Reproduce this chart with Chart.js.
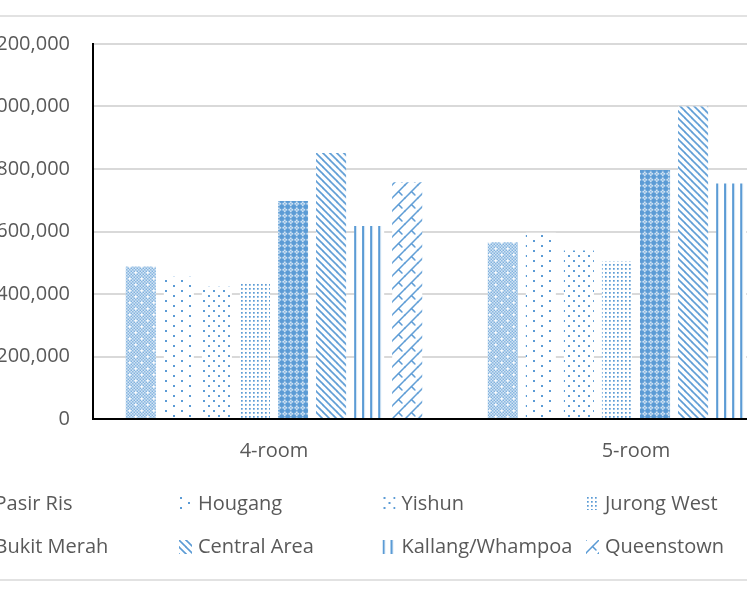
<!DOCTYPE html>
<html>
<head>
<meta charset="utf-8">
<script src="https://cdn.jsdelivr.net/npm/chart.js@4.4.1/dist/chart.umd.min.js"></script>
<style>
html,body{margin:0;padding:0;background:#fff;overflow:hidden;width:747px;height:598px;}
#wrap{position:absolute;left:-100px;top:0;width:930px;height:598px;}
</style>
</head>
<body>
<div id="wrap"><canvas id="c" width="930" height="598"></canvas></div>
<script>
// ---------- data ----------
const categories = ['4-room', '5-room'];
const seriesNames = ['Pasir Ris', 'Hougang', 'Yishun', 'Jurong West', 'Bukit Merah', 'Central Area', 'Kallang/Whampoa', 'Queenstown'];
const room4Values = [488000, 455000, 423000, 434000, 698000, 851000, 618000, 758000];
const room5Values = [566000, 596000, 539000, 504000, 797000, 1000000, 754000, 830000];
const yTickValues = [0, 200000, 400000, 600000, 800000, 1000000, 1200000];

// ---------- patterns ----------
const BLUE = '#5b9bd5';
function makeTile(w, h, draw) {
  const c = document.createElement('canvas');
  c.width = w; c.height = h;
  const g = c.getContext('2d');
  g.fillStyle = '#fff'; g.fillRect(0, 0, w, h);
  draw(g, w, h);
  return c;
}
function fromBits(bits, scale) {
  const n = bits.length, m = bits[0].length;
  const src = makeTile(m * 3, n * 3, g => {
    g.fillStyle = BLUE;
    for (let ty = 0; ty < 3; ty++) for (let tx = 0; tx < 3; tx++)
      for (let y = 0; y < n; y++) for (let x = 0; x < m; x++)
        if (bits[y][x] === '1') g.fillRect(tx * m + x, ty * n + y, 1, 1);
  });
  const big = makeTile(m * 3 * scale, n * 3 * scale, (g, w, h) => {
    g.imageSmoothingEnabled = true; g.drawImage(src, 0, 0, w, h);
  });
  return makeTile(m * scale, n * scale, g => g.drawImage(big, -m * scale, -n * scale));
}
function dots(w, h, pts, s) {
  return makeTile(w, h, g => { g.fillStyle = BLUE; pts.forEach(p => g.fillRect(p[0], p[1], s, s)); });
}
function segs(w, h, list, lw) {
  return makeTile(w, h, g => {
    g.strokeStyle = BLUE; g.lineWidth = lw; g.lineCap = 'round';
    for (let dx = -w; dx <= w; dx += w) for (let dy = -h; dy <= h; dy += h) {
      list.forEach(s => { g.beginPath(); g.moveTo(s[0] + dx, s[1] + dy); g.lineTo(s[2] + dx, s[3] + dy); g.stroke(); });
    }
  });
}
const ctx0 = document.createElement('canvas').getContext('2d');
const tiles = [
  fromBits(['10101010','01010101','10001010','01010101','10101010','01010101','10101000','01010101'], 1.5),
  dots(16, 10, [[1,1],[9,6]], 2),
  dots(10, 10, [[1,1],[6,6]], 2),
  dots(4, 4, [[1,1]], 1.7),
  fromBits(['10101010','01110111','11111111','01110111','10101010','01110111','11111111','01110111'], 1.5),
  segs(7, 7, [[0,0,7,7]], 1.6),
  makeTile(8, 8, g => { g.fillStyle = BLUE; g.fillRect(0, 0, 2.2, 8); }),
  segs(13, 13, [[0,13,13,0],[6.5,6.5,10,10]], 1.5)
];
const stretchX = [false, false, false, false, false, true, true, true];
const patterns = tiles.map(t => ctx0.createPattern(t, 'repeat'));

// ---------- chart ----------
const FONT = '"Open Sans", "Noto Sans", sans-serif';
const GREY = '#595959';

const datasets = seriesNames.map((name, i) => ({
  label: name,
  data: [room4Values[i], room5Values[i]],
  backgroundColor: patterns[i],
  borderWidth: 0,
  categoryPercentage: 0.841,
  barPercentage: 0.79
}));

const decor = {
  id: 'decor',
  beforeDatasetsDraw(chart) {
    const xs = chart.scales.x;
    const catW = xs.getPixelForValue(1) - xs.getPixelForValue(0);
    chart.data.datasets.forEach((ds, i) => {
      const bar = chart.getDatasetMeta(i).data[0];
      const left = Math.round(bar.x - bar.width / 2);
      let m = new DOMMatrix().translate(left, Math.round(chart.chartArea.bottom));
      if (stretchX[i]) {
        const tw = tiles[i].width;
        const n = Math.round(catW / tw);
        m = m.scale(catW / n / tw, 1);
      }
      ds.backgroundColor.setTransform(m);
    });
  },
  afterDraw(chart) {
    const ctx = chart.ctx;
    ctx.save();
    // outer frame lines
    ctx.strokeStyle = '#d9d9d9';
    ctx.lineWidth = 1.5;
    [16, 580].forEach(y => { ctx.beginPath(); ctx.moveTo(0, y); ctx.lineTo(chart.width, y); ctx.stroke(); });
    // legend
    ctx.font = '20px ' + FONT;
    ctx.textBaseline = 'middle';
    ctx.textAlign = 'left';
    chart.data.datasets.forEach((ds, i) => {
      const col = i % 4, row = Math.floor(i / 4);
      const tx = 94.5 + col * 203.5;
      const ty = row === 0 ? 503 : 546.5;
      const mx = tx - 19, my = Math.round(ty - 7);
      ds.backgroundColor.setTransform(new DOMMatrix().translate(mx, my));
      ctx.fillStyle = ds.backgroundColor;
      ctx.fillRect(mx, my, 13, 14);
      ctx.fillStyle = GREY;
      ctx.fillText(ds.label, tx, ty + 1);
    });
    ctx.restore();
  }
};

new Chart(document.getElementById('c'), {
  type: 'bar',
  data: { labels: categories, datasets },
  options: {
    responsive: false,
    animation: false,
    layout: { padding: { left: 0, right: 13, top: 44, bottom: 129 } },
    plugins: { legend: { display: false }, tooltip: { enabled: false } },
    scales: {
      x: {
        grid: { display: false, drawTicks: false },
        border: { display: true, color: '#000', width: 2 },
        ticks: { color: GREY, font: { family: FONT, size: 20 }, padding: 20 },
        afterFit(s) { s.height = 50; }
      },
      y: {
        min: 0,
        max: 1200000,
        afterBuildTicks(s) { s.ticks = yTickValues.map(v => ({ value: v })); },
        ticks: {
          color: GREY,
          font: { family: FONT, size: 20 },
          padding: 23,
          callback: v => Number(v).toLocaleString('en-US')
        },
        grid: { color: '#d9d9d9', lineWidth: 2, drawTicks: false },
        border: { display: true, color: '#000', width: 2 },
        afterFit(s) { s.width = 193; }
      }
    }
  },
  plugins: [decor]
});
</script>
</body>
</html>
